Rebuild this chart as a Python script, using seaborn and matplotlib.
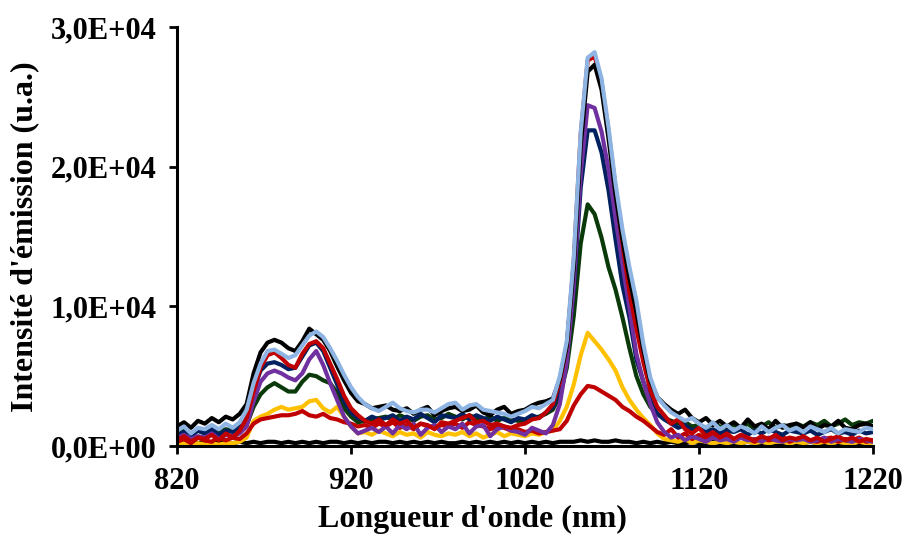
import numpy as np
import pandas as pd
import seaborn as sns
import matplotlib.pyplot as plt
from matplotlib.ticker import FuncFormatter

# longueur d'onde (nm), un point tous les 4 nm
wavelength = list(range(820, 1221, 4))

# intensités, en milliers (u.a.)
black_base = [0.2, 0.3, 0.2, 0.2, 0.3, 0.2, 0.3, 0.2, 0.2, 0.3,
              0.2, 0.3, 0.2, 0.3, 0.3, 0.2, 0.3, 0.2, 0.3, 0.2,
              0.3, 0.2, 0.3, 0.3, 0.2, 0.3, 0.2, 0.3, 0.2, 0.3,
              0.3, 0.2, 0.3, 0.2, 0.3, 0.2, 0.3, 0.2, 0.3, 0.2,
              0.2, 0.3, 0.2, 0.3, 0.2, 0.3, 0.2, 0.3, 0.2, 0.3,
              0.2, 0.3, 0.2, 0.3, 0.2, 0.3, 0.3, 0.3, 0.4, 0.3,
              0.4, 0.3, 0.3, 0.4, 0.3, 0.3, 0.2, 0.3, 0.2, 0.3,
              0.2, 0.3, 0.2, 0.2, 0.3, 0.2, 0.2, 0.3, 0.2, 0.2,
              0.2, 0.2, 0.3, 0.2, 0.2, 0.3, 0.2, 0.2, 0.3, 0.2,
              0.2, 0.3, 0.2, 0.2, 0.3, 0.2, 0.2, 0.3, 0.2, 0.2,
              0.2]
gold = [0.1, 0.2, 0.1, 0.2, 0.1, 0.2, 0.1, 0.2, 0.2, 0.3,
        0.6, 1.8, 2.1, 2.3, 2.6, 2.8, 2.6, 2.7, 2.8, 3.2,
        3.3, 2.7, 2.4, 2.8, 2.1, 1.4, 0.9, 1.0, 0.8, 1.1,
        0.9, 0.7, 1.0, 0.8, 0.9, 0.6, 1.0, 0.8, 0.7, 0.9,
        0.8, 1.0, 0.7, 0.9, 0.6, 0.8, 1.0, 0.7, 0.9, 0.8,
        0.7, 0.9, 0.8, 1.0, 1.1, 1.8, 2.8, 4.4, 6.5, 8.1,
        7.5, 6.9, 6.2, 5.4, 4.2, 3.3, 2.6, 2.0, 1.5, 0.9,
        0.5, 0.4, 0.3, 0.5, 0.2, 0.4, 0.3, 0.2, 0.3, 0.2,
        0.3, 0.2, 0.3, 0.2, 0.3, 0.2, 0.3, 0.3, 0.2, 0.3,
        0.2, 0.3, 0.2, 0.3, 0.2, 0.3, 0.2, 0.2, 0.3, 0.2,
        0.2]
red_low = [0.3, 0.5, 0.2, 0.6, 0.4, 0.3, 0.7, 0.4, 0.6, 0.5,
           0.9, 1.6, 1.9, 2.0, 2.1, 2.2, 2.2, 2.3, 2.5, 2.2,
           2.1, 2.3, 2.0, 1.9, 1.7, 1.6, 1.4, 1.5, 1.3, 1.6,
           1.4, 1.7, 1.3, 1.5, 1.2, 1.6, 1.4, 1.3, 1.5, 1.4,
           1.6, 1.3, 1.7, 1.5, 1.4, 1.2, 1.4, 1.3, 1.1, 1.2,
           1.0, 1.1, 0.9, 1.0, 1.1, 1.2, 1.8, 2.9, 3.7, 4.3,
           4.2, 3.9, 3.6, 3.3, 2.8, 2.5, 2.1, 1.8, 1.4, 1.0,
           0.8, 1.2, 0.6, 0.9, 0.5, 0.8, 0.4, 0.7, 0.5, 0.6,
           0.4, 0.7, 0.5, 0.3, 0.6, 0.4, 0.5, 0.7, 0.3, 0.5,
           0.6, 0.4, 0.3, 0.5, 0.6, 0.3, 0.5, 0.4, 0.6, 0.3,
           0.4]
dark_green = [1.0, 1.2, 0.8, 1.1, 0.9, 1.3, 1.0, 1.2, 1.1, 1.4,
              1.5, 2.8, 3.7, 4.2, 4.5, 4.2, 3.9, 3.9, 4.6, 5.1,
              5.0, 4.7, 4.5, 3.8, 2.7, 2.1, 1.7, 1.8, 1.9, 2.0,
              2.1, 1.9, 2.2, 2.0, 1.8, 2.1, 2.2, 1.9, 2.0, 2.3,
              2.1, 1.9, 2.2, 2.0, 1.9, 2.1, 1.8, 2.0, 1.9, 1.8,
              1.8, 2.0, 2.1, 2.3, 2.6, 3.6, 5.6, 9.3, 14.5, 17.3,
              16.6, 14.9, 12.8, 11.2, 9.2, 7.0, 5.0, 3.7, 2.8, 2.3,
              2.0, 1.8, 1.6, 1.7, 1.4, 1.5, 1.3, 1.6, 1.4, 1.3,
              1.5, 1.3, 1.6, 1.2, 1.4, 1.7, 1.3, 1.5, 1.4, 1.6,
              1.4, 1.7, 1.5, 1.8, 1.4, 1.6, 1.9, 1.5, 1.7, 1.6,
              1.8]
navy = [0.8, 1.0, 0.7, 1.1, 0.9, 1.2, 0.8, 1.1, 1.0, 1.3,
        2.2, 4.0, 5.4, 5.9, 6.0, 5.8, 5.5, 5.6, 6.4, 7.2,
        7.4, 6.8, 5.6, 4.4, 3.2, 2.4, 2.0, 1.8, 2.1, 1.9,
        2.0, 2.2, 1.8, 2.1, 1.9, 2.3, 2.0, 1.7, 2.2, 2.1,
        2.0, 2.3, 1.9, 2.2, 2.0, 1.8, 2.1, 1.9, 1.7, 2.0,
        1.9, 2.2, 2.0, 2.4, 2.8, 4.0, 6.5, 11.2, 18.5, 22.6,
        22.6, 21.0, 18.3, 14.8, 11.5, 9.2, 6.2, 4.6, 3.3, 2.3,
        1.9, 1.6, 1.3, 1.5, 1.1, 1.3, 1.0, 1.2, 0.9, 1.1,
        1.0, 1.2, 0.8, 1.1, 0.9, 1.2, 1.0, 0.8, 1.1, 1.0,
        0.9, 1.1, 0.8, 1.0, 1.2, 0.9, 1.0, 0.8, 1.1, 0.9,
        1.0]
purple = [0.6, 0.8, 0.5, 0.7, 0.6, 0.9, 0.5, 0.8, 0.7, 0.9,
          1.4, 3.2, 4.6, 5.2, 5.4, 5.2, 4.9, 4.7, 5.2, 6.2,
          6.8, 5.8, 4.5, 3.3, 2.1, 1.4, 0.9, 1.1, 1.3, 1.0,
          1.4, 0.9, 1.5, 1.2, 1.6, 0.8, 1.3, 1.5, 1.0, 1.4,
          1.2, 1.6, 0.9, 1.4, 1.5, 0.7, 1.2, 1.4, 1.1, 1.0,
          0.8, 1.3, 1.1, 0.9, 1.5, 3.0, 6.0, 11.5, 19.5, 24.4,
          24.2, 22.5, 19.8, 16.3, 13.0, 9.9, 6.6, 4.6, 3.0, 1.7,
          1.0, 0.6, 0.8, 0.4, 0.7, 0.5, 0.3, 0.6, 0.4, 0.5,
          0.3, 0.6, 0.4, 0.5, 0.3, 0.6, 0.4, 0.3, 0.5, 0.4,
          0.5, 0.3, 0.4, 0.6, 0.3, 0.5, 0.4, 0.3, 0.5, 0.4,
          0.3]
red_high = [0.4, 0.7, 0.3, 0.6, 0.5, 0.8, 0.4, 0.9, 0.6, 1.1,
            2.0, 3.9, 5.6, 6.5, 6.7, 6.3, 5.8, 5.6, 6.6, 7.3,
            7.5, 7.0, 5.9, 4.8, 3.6, 2.7, 2.2, 1.8, 1.6, 1.9,
            1.5, 1.9, 1.6, 1.8, 1.3, 1.6, 1.5, 1.2, 1.7, 1.6,
            1.8, 2.0, 2.2, 1.7, 1.8, 1.5, 1.6, 1.4, 1.3, 1.5,
            1.6, 1.9, 2.0, 2.4, 3.0, 4.6, 7.2, 13.2, 22.3, 27.6,
            27.9, 26.0, 22.5, 18.5, 14.5, 11.0, 8.4, 6.0, 4.0, 2.8,
            2.2, 1.6, 1.9, 1.2, 0.9, 1.3, 0.7, 1.0, 0.6, 0.9,
            0.5, 0.8, 0.6, 0.4, 0.7, 0.5, 0.8, 0.4, 0.6, 0.5,
            0.7, 0.4, 0.6, 0.3, 0.5, 0.7, 0.4, 0.6, 0.3, 0.5,
            0.4]
black_high = [1.4, 1.7, 1.3, 1.8, 1.6, 2.0, 1.7, 2.1, 1.9, 2.3,
              3.0, 5.2, 6.7, 7.4, 7.6, 7.4, 7.0, 6.8, 7.5, 8.4,
              8.0, 7.6, 6.8, 5.7, 4.7, 3.8, 3.2, 3.0, 2.7, 2.8,
              2.9, 2.6, 2.5, 2.7, 2.3, 2.6, 2.8, 2.2, 2.5, 2.7,
              2.8, 2.5, 2.6, 2.9, 2.4, 2.2, 2.6, 2.8, 2.3, 2.5,
              2.6, 2.9, 3.1, 3.2, 3.4, 4.8, 7.2, 12.8, 21.5, 26.8,
              27.3, 25.5, 22.0, 18.0, 14.8, 12.0, 9.6, 6.9, 4.7, 3.5,
              3.0, 2.6, 2.3, 2.6, 2.0, 1.7, 2.0, 1.5, 1.8, 1.4,
              1.7, 1.3, 1.9, 1.4, 1.6, 1.2, 1.8, 1.3, 1.5, 1.6,
              1.3, 1.7, 1.2, 1.5, 1.4, 1.8, 1.3, 1.2, 1.5, 1.6,
              1.4]
light_blue = [1.1, 1.4, 0.9, 1.3, 1.2, 1.5, 1.2, 1.6, 1.3, 1.7,
              2.6, 4.5, 5.9, 6.8, 6.9, 6.6, 6.3, 6.5, 7.2, 7.9,
              8.2, 7.8, 7.0, 6.1, 5.1, 4.2, 3.5, 3.0, 2.7, 2.5,
              2.8, 3.1, 2.7, 2.5, 2.4, 2.6, 2.6, 2.4, 2.7, 3.0,
              3.1, 2.6, 2.9, 3.0, 2.6, 2.5, 2.4, 2.3, 2.1, 2.3,
              2.5, 2.8, 2.7, 3.0, 3.3, 5.0, 7.5, 13.5, 22.5, 27.8,
              28.2, 26.3, 22.8, 18.8, 15.5, 12.8, 10.4, 7.3, 4.9, 3.5,
              2.9, 2.4, 2.1, 1.8, 2.0, 1.6, 1.3, 1.7, 1.2, 1.5,
              1.1, 1.4, 1.2, 0.9, 1.4, 1.0, 1.3, 1.5, 1.1, 1.3,
              1.0, 1.4, 1.2, 1.0, 1.3, 0.9, 1.2, 1.1, 1.0, 1.3,
              1.2]

series = {
    'noir_base': black_base,
    'or': gold,
    'rouge_bas': red_low,
    'vert': dark_green,
    'marine': navy,
    'violet': purple,
    'rouge_haut': red_high,
    'noir_haut': black_high,
    'bleu_clair': light_blue,
}
palette = {
    'noir_base': '#000000',
    'or': '#FFC000',
    'rouge_bas': '#C00000',
    'vert': '#0A3A0A',
    'marine': '#002060',
    'violet': '#7030A0',
    'rouge_haut': '#C00000',
    'noir_haut': '#000000',
    'bleu_clair': '#8DB4E2',
}

frames = []
for name, vals in series.items():
    assert len(vals) == len(wavelength), name
    frames.append(pd.DataFrame({'nm': wavelength,
                                'intensite': np.array(vals) * 1000,
                                'serie': name}))
df = pd.concat(frames, ignore_index=True)

sns.set_theme(style="white")
plt.rcParams['font.family'] = ['Liberation Serif', 'DejaVu Serif']
plt.rcParams['font.weight'] = 'bold'
plt.rcParams['text.color'] = 'black'
plt.rcParams['axes.labelcolor'] = 'black'
plt.rcParams['xtick.color'] = 'black'
plt.rcParams['ytick.color'] = 'black'

fig, ax = plt.subplots(figsize=(9.06, 5.37), dpi=100)
fig.subplots_adjust(left=0.1954, right=0.9636, top=0.9497, bottom=0.1695)

sns.lineplot(data=df, x='nm', y='intensite', hue='serie',
             hue_order=list(series.keys()), palette=palette,
             linewidth=3.0, legend=False, estimator=None, ax=ax)


def sci_comma(v, pos):
    if v == 0:
        return "0,0E+00"
    e = int(np.floor(np.log10(abs(v))))
    return f"{v / 10**e:.1f}E+{e:02d}".replace(".", ",")


ax.set_xlim(820, 1220)
ax.set_ylim(0, 30000)
ax.set_xticks([820, 920, 1020, 1120, 1220])
ax.set_yticks([0, 10000, 20000, 30000])
ax.yaxis.set_major_formatter(FuncFormatter(sci_comma))

for side in ['top', 'right']:
    ax.spines[side].set_visible(False)
for side in ['left', 'bottom']:
    ax.spines[side].set_linewidth(2.2)
    ax.spines[side].set_color('black')

ax.tick_params(axis='both', direction='out', length=6, width=2, colors='black',
               labelsize=22, pad=9, bottom=True, left=True)
for lab in ax.get_xticklabels() + ax.get_yticklabels():
    lab.set_fontweight('bold')

ax.set_xlabel("Longueur d'onde (nm)", fontsize=23, fontweight='bold',
              labelpad=7, color='black')
ax.xaxis.set_label_coords(0.424, -0.14)
ax.set_ylabel("Intensité d'émission (u.a.)", fontsize=23, fontweight='bold',
              labelpad=8, color='black')

fig.savefig('out.png', dpi=100)
